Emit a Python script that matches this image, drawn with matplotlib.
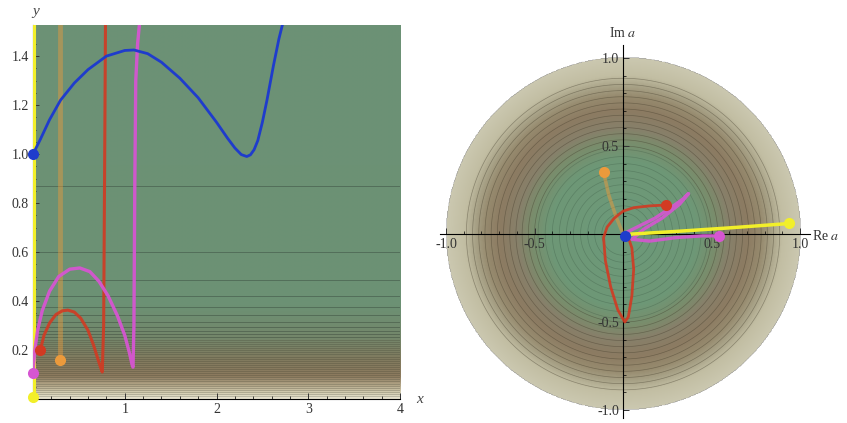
import numpy as np
import matplotlib.pyplot as plt
from matplotlib.colors import LinearSegmentedColormap

plt.rcParams['font.family'] = ['Liberation Serif', 'DejaVu Serif']
plt.rcParams['mathtext.fontset'] = 'stix'
plt.rcParams['axes.unicode_minus'] = False

# ---- left panel: trajectories in the (x, y) plane ----
blue_x = [0, 0.08, 0.18, 0.3, 0.45, 0.6, 0.8, 1.0, 1.1, 1.25, 1.4, 1.6, 1.8,
          2.0, 2.12, 2.2, 2.27, 2.33, 2.37, 2.41, 2.45, 2.5, 2.55, 2.62,
          2.68, 2.72]
blue_y = [1.0, 1.06, 1.14, 1.22, 1.29, 1.345, 1.40, 1.423, 1.425, 1.41, 1.375,
          1.31, 1.23, 1.13, 1.065, 1.025, 0.998, 0.99, 0.997, 1.018, 1.055,
          1.13, 1.22, 1.36, 1.47, 1.53]

red_x = [0.08, 0.12, 0.18, 0.25, 0.32, 0.38, 0.45, 0.52, 0.6, 0.66, 0.71,
         0.74, 0.755, 0.77, 0.78, 0.79]
red_y = [0.2, 0.26, 0.31, 0.345, 0.36, 0.363, 0.355, 0.33, 0.28, 0.22, 0.16,
         0.125, 0.11, 0.3, 0.9, 1.53]

mag_x = [0.0, 0.02, 0.05, 0.1, 0.18, 0.28, 0.4, 0.51, 0.62, 0.72, 0.82, 0.92,
         1.0, 1.05, 1.08, 1.09, 1.1, 1.11, 1.12, 1.14, 1.16]
mag_y = [0.105, 0.2, 0.28, 0.36, 0.44, 0.50, 0.53, 0.535, 0.52, 0.48, 0.42,
         0.34, 0.26, 0.19, 0.14, 0.13, 0.3, 0.9, 1.3, 1.45, 1.53]

orange_x = [0.29, 0.29]
orange_y = [0.16, 1.53]
yellow_x = [0.012, 0.012]
yellow_y = [0.0, 1.53]

# starting points (x, y)
start_pts = {
    'blue': (0.0, 1.0),
    'red': (0.08, 0.2),
    'orange': (0.29, 0.16),
    'magenta': (0.0, 0.105),
    'yellow': (0.0, 0.01),
}

# ---- right panel: same trajectories in the complex a plane ----
re_yellow = [0.05, 0.3, 0.6, 0.94]
im_yellow = [0.0, 0.015, 0.035, 0.06]
re_mag = [0.0, 0.08, 0.18, 0.27, 0.34, 0.37, 0.32, 0.22, 0.12, 0.05, 0.15,
          0.3, 0.45, 0.54]
im_mag = [0.0, 0.04, 0.09, 0.15, 0.2, 0.23, 0.17, 0.09, 0.03, -0.03, -0.04,
          -0.02, -0.01, -0.01]
re_red = [0.24, 0.15, 0.06, 0.0, -0.05, -0.09, -0.11, -0.10, -0.07, -0.03,
          0.01, 0.03, 0.05, 0.06, 0.05, 0.03, 0.01]
im_red = [0.165, 0.16, 0.15, 0.13, 0.09, 0.04, -0.02, -0.15, -0.3, -0.43,
          -0.5, -0.47, -0.35, -0.2, -0.08, -0.02, 0.0]
re_orange = [-0.11, -0.08, -0.04, 0.0]
im_orange = [0.35, 0.22, 0.1, 0.0]

end_pts = {
    'blue': (0.01, -0.01),
    'red': (0.24, 0.165),
    'orange': (-0.11, 0.35),
    'magenta': (0.54, -0.01),
    'yellow': (0.94, 0.06),
}

colors = {
    'blue': '#1f3ccc',
    'red': '#d23a22',
    'orange': '#eb9a3c',
    'magenta': '#d655d2',
    'yellow': '#f2ef2a',
}

xticks_left = [1, 2, 3, 4]
yticks_left = [0.2, 0.4, 0.6, 0.8, 1.0, 1.2, 1.4]
ticks_right = [-1.0, -0.5, 0.5, 1.0]

fig = plt.figure(figsize=(8.47, 4.23), dpi=100)

# ================= left panel =================
ax = fig.add_axes([33 / 847, 24 / 423, 367 / 847, 374 / 423])
ymax = 1.527
ax.set_xlim(0, 4)
ax.set_ylim(0, ymax)

cmap_l = LinearSegmentedColormap.from_list('left', [
    (0.0, '#e8e4d0'), (0.015, '#d4ceb2'), (0.035, '#b2a587'), (0.06, '#8c7a5e'),
    (0.1, '#827a5e'), (0.16, '#74866a'), (0.25, '#6c9174'), (1.0, '#6c9276')])
yy = np.linspace(0.001, ymax, 600)
ax.imshow(yy[:, None] / ymax * np.ones((1, 2)), origin='lower',
          extent=[0, 4, 0, ymax], aspect='auto', cmap=cmap_l,
          vmin=0, vmax=1, zorder=0)
# contour lines of the background function
gx = np.linspace(0, 4, 5)
gy = np.linspace(0.002, ymax, 2000)
GX, GY = np.meshgrid(gx, gy)
ax.contour(GX, GY, 1.0 / GY ** 2, levels=np.arange(1.32, 16, 1.45),
           colors='#2c3a30', linewidths=0.6, alpha=0.45, zorder=1)
ax.contour(GX, GY, GY, levels=np.arange(0.012, 0.245, 0.0085),
           colors='#333628', linewidths=0.5, alpha=0.32, zorder=1)

ax.plot(yellow_x, yellow_y, color=colors['yellow'], lw=2.2, zorder=3)
ax.plot(orange_x, orange_y, color=colors['orange'], lw=3.5, alpha=0.45, zorder=3)
ax.plot(red_x, red_y, color=colors['red'], lw=2.2, alpha=0.9, zorder=4)
ax.plot(mag_x, mag_y, color=colors['magenta'], lw=2.4, alpha=0.95, zorder=4)
ax.plot(blue_x, blue_y, color=colors['blue'], lw=2.0, zorder=5)
for name, (px, py) in start_pts.items():
    ax.plot(px, py, 'o', color=colors[name], ms=8, mec='none', clip_on=False, zorder=6)

for s in ['top', 'right']:
    ax.spines[s].set_visible(False)
ax.spines['left'].set_linewidth(0.8)
ax.spines['bottom'].set_linewidth(0.8)
ax.set_xticks(xticks_left)
ax.set_yticks(yticks_left)
ax.set_xticks(np.arange(0.2, 4.01, 0.2), minor=True)
ax.set_yticks(np.arange(0.05, 1.5, 0.05), minor=True)
ax.set_yticklabels([f'{v:.1f}' for v in yticks_left])
ax.tick_params(direction='in', length=4, width=0.7, labelsize=10,
               colors='#333333', pad=3)
ax.tick_params(which='minor', direction='in', length=2, width=0.5)
fig.text(36 / 847, 1 - 11 / 423, 'y', style='italic', fontsize=11,
         color='#444444', ha='center', va='center')
ax.text(4.18, 0.0, 'x', style='italic', fontsize=11, color='#444444',
        ha='left', va='center')

# ================= right panel =================
ax2 = fig.add_axes([440 / 847, 5 / 423, 370 / 847, 373 / 423])
ax2.set_xlim(-1.034, 1.056)
ax2.set_ylim(-1.045, 1.074)

cmap_r = LinearSegmentedColormap.from_list('right', [
    (0.0, '#6c9a7a'), (0.42, '#6e9776'), (0.52, '#798d6c'), (0.6, '#87806a'),
    (0.7, '#8c7b62'), (0.78, '#968a6e'), (0.84, '#a8a287'), (0.9, '#c2bea3'),
    (1.0, '#cbc8b0')])
n = 500
g = np.linspace(-1, 1, n)
RX, RY = np.meshgrid(g, g)
R = np.sqrt(RX ** 2 + RY ** 2)
ax2.imshow(np.ma.masked_where(R > 1, R), origin='lower', extent=[-1, 1, -1, 1],
           aspect='auto', cmap=cmap_r, vmin=0, vmax=1, zorder=0)
ax2.contour(RX, RY, R, levels=np.arange(0.12, 0.5, 0.04), colors='#2f4a38',
            linewidths=0.5, alpha=0.3, zorder=1)
ax2.contour(RX, RY, R, levels=np.arange(0.5, 0.9, 0.035), colors='#3a3424',
            linewidths=0.5, alpha=0.4, zorder=1)

ax2.plot(re_orange, im_orange, color=colors['orange'], lw=2.5, alpha=0.5, zorder=3)
ax2.plot(re_red, im_red, color=colors['red'], lw=2.0, alpha=0.9, zorder=4)
ax2.plot(re_mag, im_mag, color=colors['magenta'], lw=2.4, alpha=0.9, zorder=4)
ax2.plot(re_yellow, im_yellow, color=colors['yellow'], lw=2.5, zorder=4)
for name, (px, py) in end_pts.items():
    ax2.plot(px, py, 'o', color=colors[name], ms=8, mec='none', zorder=6)

for s in ['top', 'right']:
    ax2.spines[s].set_visible(False)
ax2.spines['left'].set_position(('data', 0))
ax2.spines['bottom'].set_position(('data', 0))
ax2.spines['left'].set_linewidth(0.8)
ax2.spines['bottom'].set_linewidth(0.8)
ax2.spines['left'].set_zorder(2)
ax2.spines['bottom'].set_zorder(2)
ax2.set_xticks(ticks_right)
ax2.set_yticks(ticks_right)
ax2.set_xticks(np.arange(-1.0, 1.01, 0.1), minor=True)
ax2.set_yticks(np.arange(-1.0, 1.01, 0.1), minor=True)
ax2.set_xticklabels([f'{v:.1f}' for v in ticks_right])
ax2.set_yticklabels([f'{v:.1f}' for v in ticks_right])
ax2.tick_params(direction='in', length=4, width=0.7, labelsize=10,
                colors='#333333', pad=3)
ax2.tick_params(which='minor', direction='in', length=2, width=0.5)
ax2.text(1.07, -0.01, 'Re $a$', fontsize=10, color='#333333',
         ha='left', va='center')
ax2.text(0.0, 1.1, 'Im $a$', fontsize=10, color='#333333',
         ha='center', va='bottom')
ax2.set_xlim(-1.034, 1.056)
ax2.set_ylim(-1.045, 1.074)

fig.savefig('out.png', dpi=100)
